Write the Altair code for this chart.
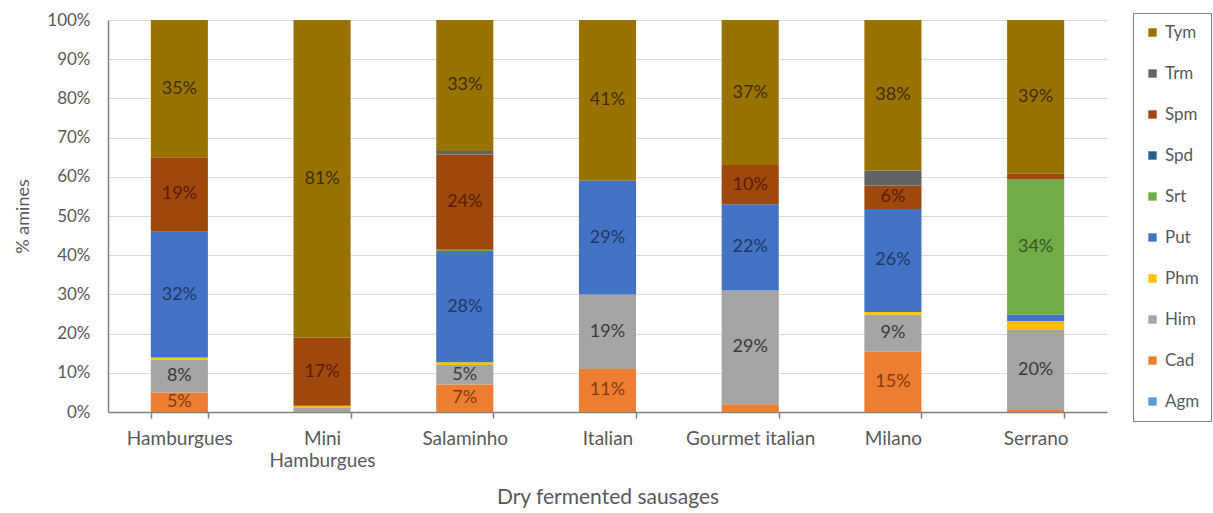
import altair as alt
import pandas as pd

sausages = ["Hamburgues", "Mini Hamburgues", "Salaminho", "Italian",
            "Gourmet italian", "Milano", "Serrano"]
amines = ["Agm", "Cad", "Him", "Phm", "Put", "Srt", "Spd", "Spm", "Trm", "Tym"]

# % of each amine per sausage
Agm = [0, 0, 0, 0, 0, 0, 0]
Cad = [5, 0, 7, 11, 2, 15.4, 0.5]
Him = [8.4, 1.0, 5, 19, 29, 9.4, 20.4]
Phm = [0.5, 0.6, 0.7, 0, 0, 0.7, 2.3]
Put = [32.1, 0, 28.4, 29, 22, 26.3, 1.7]
Srt = [0, 0, 0.3, 0, 0, 0, 34.4]
Spd = [0, 0, 0, 0, 0, 0, 0]
Spm = [19, 17.4, 24.3, 0, 10, 6, 1.5]
Trm = [0, 0, 0.9, 0, 0, 3.8, 0]
Tym = [35, 81, 33.4, 41, 37, 38.4, 39.2]

series = [Agm, Cad, Him, Phm, Put, Srt, Spd, Spm, Trm, Tym]
bar_colors = ["#5B9BD5", "#ED7D31", "#A5A5A5", "#FFC000", "#4472C4",
              "#70AD47", "#255E91", "#9E480E", "#636363", "#997300"]
text_colors = ["#1F4E79", "#843C0C", "#3A3A3A", "#7F6000", "#1F3864",
               "#375623", "#132F48", "#5A1E00", "#262626", "#3F2F00"]

rows = []
for i, (a, vals) in enumerate(zip(amines, series)):
    for s, v in zip(sausages, vals):
        rows.append({"sausage": s, "amine": a, "value": v, "order": i,
                     "tcol": text_colors[i]})
df = pd.DataFrame(rows)

FONT = "Lato"
GREY = "#595959"

xscale = alt.Scale(domain=sausages, paddingInner=0.6, paddingOuter=0.3)
yscale = alt.Scale(domain=[0, 100])

xaxis = alt.Axis(title="Dry fermented sausages", labelAngle=0,
                 ticks=True, tickBand="extent", tickSize=6, tickColor="#7f7f7f",
                 tickWidth=1.5, grid=False, domainColor="#7f7f7f",
                 domainWidth=1.5, labelPadding=11, titlePadding=16,
                 labelFontSize=19, titleFontSize=21, labelLineHeight=22,
                 labelExpr="datum.label == 'Mini Hamburgues' ? ['Mini', 'Hamburgues'] : datum.label")
yaxis = alt.Axis(title="% amines", values=list(range(0, 101, 10)),
                 labelExpr="datum.value + '%'", ticks=False,
                 labelOverlap=False,
                 domainColor="#7f7f7f", domainWidth=1.5,
                 gridColor="#d9d9d9", labelPadding=18,
                 labelFontSize=17, titleFontSize=18,
                 titlePadding=14)

base = alt.Chart(df).transform_stack(
    stack="value", groupby=["sausage"], as_=["v0", "v1"],
    sort=[alt.SortField("order", order="ascending")]
)

bars = base.mark_bar().encode(
    x=alt.X("sausage:N", scale=xscale, sort=sausages, axis=xaxis),
    y=alt.Y("v0:Q", scale=yscale, axis=yaxis),
    y2="v1:Q",
    color=alt.Color("amine:N",
                    scale=alt.Scale(domain=amines[::-1], range=bar_colors[::-1]),
                    legend=alt.Legend(title=None, orient="none", legendX=1025,
                                      legendY=-7, symbolType="square",
                                      symbolSize=70, labelFontSize=17,
                                      rowPadding=23, padding=11,
                                      strokeColor="#7f7f7f", labelColor=GREY,
                                      labelFont=FONT, labelOffset=4,
                                      symbolStrokeWidth=0)),
)

labels = base.transform_calculate(
    mid="(datum.v0 + datum.v1) / 2",
    lab="format(datum.value, '.0f') + '%'"
).transform_filter("datum.value >= 5").mark_text(
    font=FONT, fontSize=18
).encode(
    x=alt.X("sausage:N", scale=xscale, sort=sausages, axis=xaxis),
    y=alt.Y("mid:Q", scale=yscale, axis=yaxis),
    text="lab:N",
    color=alt.Color("tcol:N", scale=None),
)

chart = alt.layer(bars, labels).properties(
    width=999, height=392,
    padding={"left": 108, "top": 20, "right": 106, "bottom": 101},
    autosize=alt.AutoSizeParams(type="none"),
).configure_view(stroke=None).configure_axis(
    labelFont=FONT, titleFont=FONT,
    labelColor=GREY, titleColor=GREY, titleFontWeight="normal",
)

chart.save("out.html", embed_options={"renderer": "svg", "actions": False})
